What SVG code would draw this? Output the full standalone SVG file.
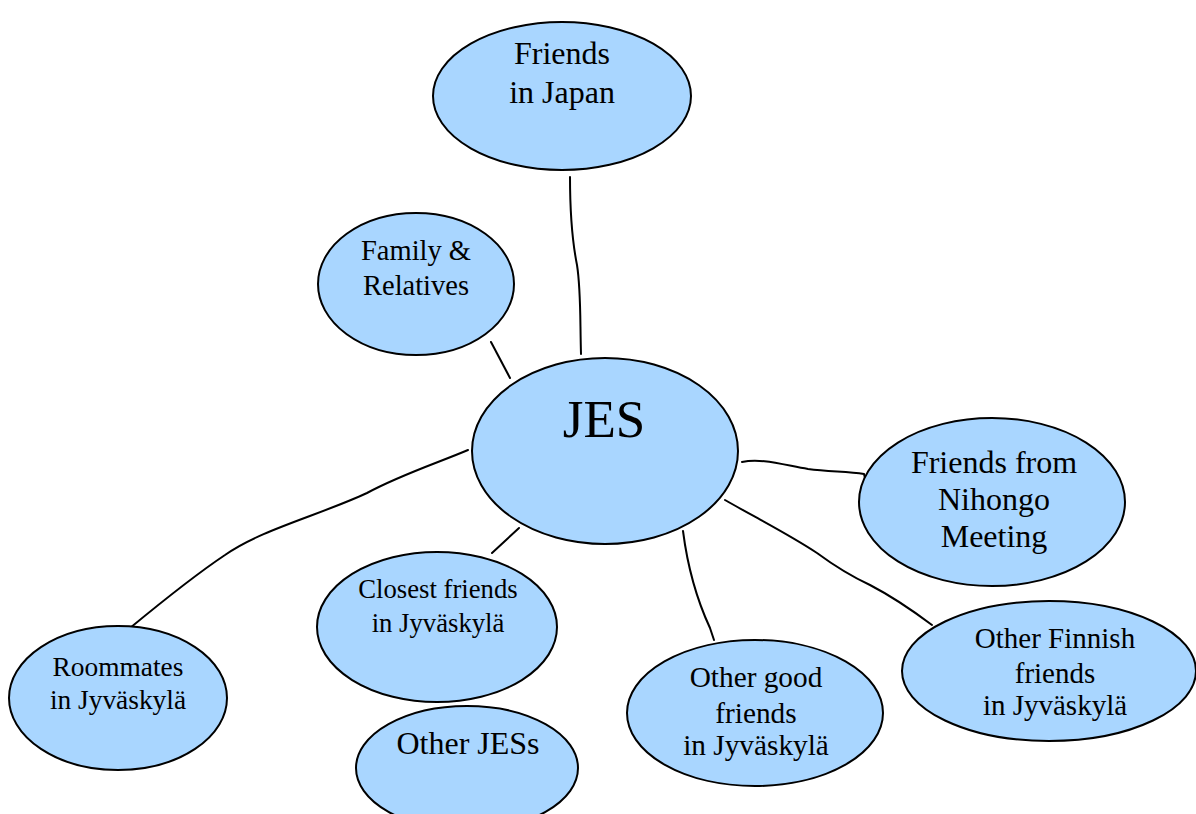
<svg xmlns="http://www.w3.org/2000/svg" width="1196" height="814" viewBox="0 0 1196 814">
<style>
  .node { fill: #a9d6ff; stroke: #000; stroke-width: 2; }
  .lbl { font-family: "Liberation Serif", "Times New Roman", serif; fill: #000; text-anchor: middle; }
  .conn { fill: none; stroke: #000; stroke-width: 2; stroke-linecap: round; }
</style>
<rect width="1196" height="814" fill="#fff"/>
<g id="connectors">
  <path class="conn" d="M570 177 C570 215 572 240 577 265 C581 290 580 320 581 354"/>
  <path class="conn" d="M491 342 L510 378"/>
  <path class="conn" d="M742 462 C760 458 780 464 808 469 C830 472 848 471 864 474 L865 478"/>
  <path class="conn" d="M725 500 C760 520 790 535 817 553 C840 570 855 578 870 585 C895 598 912 610 932 625"/>
  <path class="conn" d="M683 531 C688 570 697 600 710 628 L714 640"/>
  <path class="conn" d="M519 528 L492 553"/>
  <path class="conn" d="M468 450 C440 462 400 475 367 493 C320 515 260 530 225 555 C195 575 170 595 130 628"/>
</g>
<g id="n-japan">
  <ellipse class="node" cx="562" cy="96" rx="129" ry="74"/>
  <text class="lbl" x="562" y="64" font-size="32">Friends</text>
  <text class="lbl" x="562" y="103" font-size="32">in Japan</text>
</g>
<g id="n-family">
  <ellipse class="node" cx="416" cy="284" rx="98" ry="71"/>
  <text class="lbl" x="416" y="260" font-size="28.5">Family &amp;</text>
  <text class="lbl" x="416" y="295" font-size="28.5">Relatives</text>
</g>
<g id="n-jes">
  <ellipse class="node" cx="605" cy="451" rx="133" ry="93"/>
  <text class="lbl" x="604" y="437" font-size="53">JES</text>
</g>
<g id="n-nihongo">
  <ellipse class="node" cx="992" cy="502" rx="133" ry="84"/>
  <text class="lbl" x="994" y="473" font-size="32">Friends from</text>
  <text class="lbl" x="994" y="510" font-size="32">Nihongo</text>
  <text class="lbl" x="994" y="547" font-size="32">Meeting</text>
</g>
<g id="n-closest">
  <ellipse class="node" cx="437" cy="627" rx="120" ry="75"/>
  <text class="lbl" x="438" y="598" font-size="26.7">Closest friends</text>
  <text class="lbl" x="438" y="632" font-size="26.7">in Jyväskylä</text>
</g>
<g id="n-roommates">
  <ellipse class="node" cx="118" cy="698" rx="109" ry="72"/>
  <text class="lbl" x="118" y="676" font-size="27.4">Roommates</text>
  <text class="lbl" x="118" y="709" font-size="27.4">in Jyväskylä</text>
</g>
<g id="n-otherjes">
  <ellipse class="node" cx="467" cy="768" rx="111" ry="62"/>
  <text class="lbl" x="468" y="754" font-size="32">Other JESs</text>
</g>
<g id="n-othergood">
  <ellipse class="node" cx="755" cy="713" rx="128" ry="73"/>
  <text class="lbl" x="756" y="687" font-size="29.3">Other good</text>
  <text class="lbl" x="756" y="723" font-size="29.3">friends</text>
  <text class="lbl" x="756" y="755" font-size="29.3">in Jyväskylä</text>
</g>
<g id="n-finnish">
  <ellipse class="node" cx="1049" cy="671" rx="147" ry="70"/>
  <text class="lbl" x="1055" y="648" font-size="29">Other Finnish</text>
  <text class="lbl" x="1055" y="683" font-size="29">friends</text>
  <text class="lbl" x="1055" y="715" font-size="29">in Jyväskylä</text>
</g>
</svg>
